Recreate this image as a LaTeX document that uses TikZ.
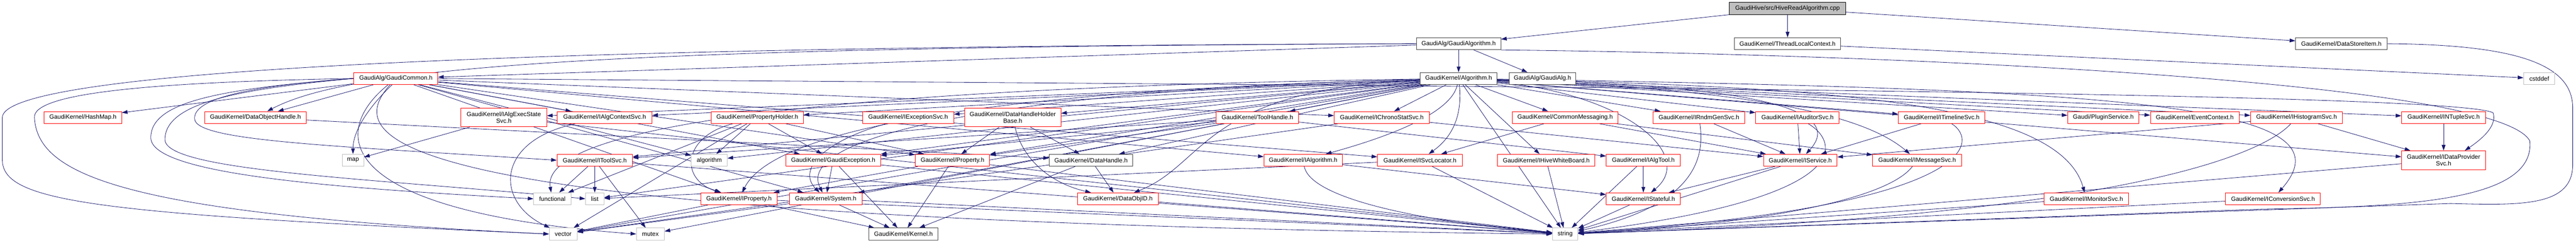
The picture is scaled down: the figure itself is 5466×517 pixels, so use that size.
\documentclass[tikz,border=0pt]{standalone}
\usepackage{fontspec}
\setmainfont{Liberation Sans}
\usetikzlibrary{arrows.meta}
\pgfdeclarelayer{bg}
\pgfsetlayers{bg,main}
\definecolor{edgecol}{HTML}{191970}
\definecolor{nodered}{HTML}{FF0000}
\definecolor{nodegray}{HTML}{BFBFBF}
\definecolor{nodeblk}{HTML}{404040}
\begin{document}
\begin{tikzpicture}[x=1pt,y=-1pt,
  hbox/.style={draw, rectangle, line width=1.1pt, fill=white, minimum height=25.5pt, inner sep=2pt, font=\fontsize{13}{14}\selectfont, text=black},
  redbox/.style={hbox, draw=nodered},
  blkbox/.style={hbox, draw=nodeblk},
  sysbox/.style={hbox, draw=nodegray},
  rootbox/.style={hbox, draw=black, fill=nodegray},
  tallbox/.style={minimum height=40pt, align=center},
  e/.style={draw=edgecol, line width=0.9pt, -{Triangle[length=12pt,width=8pt]}}
]
\useasboundingbox (0,0) rectangle (5466,517);
% row 0-2
\node[rootbox, minimum width=247pt] (root) at (3793,18) {GaudiHive/src/HiveReadAlgorithm.cpp};
\node[blkbox, minimum width=179pt] (galgm) at (3095,93) {GaudiAlg/GaudiAlgorithm.h};
\node[blkbox, minimum width=225pt] (tlc) at (3793,93) {GaudiKernel/ThreadLocalContext.h};
\node[blkbox, minimum width=194pt] (dsi) at (4968,93) {GaudiKernel/DataStoreItem.h};
\node[redbox, minimum width=178pt] (gcom) at (840,167) {GaudiAlg/GaudiCommon.h};
\node[blkbox, minimum width=163pt] (algh) at (3095,167) {GaudiKernel/Algorithm.h};
\node[blkbox, minimum width=142pt] (galg) at (3273,167) {GaudiAlg/GaudiAlg.h};
\node[sysbox, minimum width=66pt] (cstddef) at (5388,167) {cstddef};
% row 3
\node[redbox, minimum width=164pt] (hashmap) at (176,250) {GaudiKernel/HashMap.h};
\node[redbox, minimum width=215pt] (doh) at (542,250) {GaudiKernel/DataObjectHandle.h};
\node[redbox, tallbox, minimum width=182pt] (iaes) at (1069,250) {GaudiKernel/IAlgExecState\\Svc.h};
\node[redbox, minimum width=201pt] (iacs) at (1283,250) {GaudiKernel/IAlgContextSvc.h};
\node[redbox, minimum width=195pt] (ph) at (1607,250) {GaudiKernel/PropertyHolder.h};
\node[redbox, minimum width=193pt] (iexc) at (1927,250) {GaudiKernel/IExceptionSvc.h};
\node[redbox, tallbox, minimum width=204pt] (dhhb) at (2149,250) {GaudiKernel/DataHandleHolder\\Base.h};
\node[redbox, minimum width=174pt] (th) at (2668,250) {GaudiKernel/ToolHandle.h};
\node[redbox, minimum width=202pt] (icss) at (2932,250) {GaudiKernel/IChronoStatSvc.h};
\node[redbox, minimum width=224pt] (cm) at (3321,250) {GaudiKernel/CommonMessaging.h};
\node[redbox, minimum width=195pt] (irnd) at (3605,250) {GaudiKernel/IRndmGenSvc.h};
\node[redbox, minimum width=177pt] (iaud) at (3814,250) {GaudiKernel/IAuditorSvc.h};
\node[redbox, minimum width=184pt] (itl) at (4120,250) {GaudiKernel/ITimelineSvc.h};
\node[redbox, minimum width=151pt] (plug) at (4463,250) {Gaudi/PluginService.h};
\node[redbox, minimum width=188pt] (ec) at (4657,250) {GaudiKernel/EventContext.h};
\node[redbox, minimum width=195pt] (ihs) at (4873,250) {GaudiKernel/IHistogramSvc.h};
\node[redbox, minimum width=178pt] (ints) at (5185,250) {GaudiKernel/INTupleSvc.h};
% row 4
\node[sysbox, minimum width=46pt] (map) at (749,341) {map};
\node[redbox, minimum width=160pt] (its) at (1262,341) {GaudiKernel/IToolSvc.h};
\node[sysbox, minimum width=76pt] (algo) at (1505,341) {algorithm};
\node[redbox, minimum width=201pt] (gexc) at (1768,341) {GaudiKernel/GaudiException.h};
\node[redbox, minimum width=158pt] (prop) at (2021,341) {GaudiKernel/Property.h};
\node[blkbox, minimum width=177pt] (dh) at (2315,341) {GaudiKernel/DataHandle.h};
\node[redbox, minimum width=166pt] (ialg) at (2765,341) {GaudiKernel/IAlgorithm.h};
\node[redbox, minimum width=180pt] (isl) at (3013,341) {GaudiKernel/ISvcLocator.h};
\node[redbox, minimum width=207pt] (ihwb) at (3281,341) {GaudiKernel/IHiveWhiteBoard.h};
\node[redbox, minimum width=157pt] (iat) at (3487,341) {GaudiKernel/IAlgTool.h};
\node[redbox, minimum width=156pt] (isvc) at (3820,341) {GaudiKernel/IService.h};
\node[redbox, minimum width=189pt] (ims) at (4068,341) {GaudiKernel/IMessageSvc.h};
\node[redbox, tallbox, minimum width=178pt] (idps) at (5185,341) {GaudiKernel/IDataProvider\\Svc.h};
% row 5
\node[sysbox, minimum width=79pt] (func) at (1172,423) {functional};
\node[sysbox, minimum width=39pt] (list) at (1262,423) {list};
\node[redbox, minimum width=162pt] (iprop) at (1568,423) {GaudiKernel/IProperty.h};
\node[redbox, minimum width=154pt] (sys) at (1752,423) {GaudiKernel/System.h};
\node[redbox, minimum width=171pt] (doid) at (2372,423) {GaudiKernel/DataObjID.h};
\node[redbox, minimum width=157pt] (istf) at (3487,423) {GaudiKernel/IStateful.h};
\node[redbox, minimum width=179pt] (imon) at (4427,423) {GaudiKernel/IMonitorSvc.h};
\node[redbox, minimum width=201pt] (icnv) at (4823,423) {GaudiKernel/IConversionSvc.h};
% row 6
\node[sysbox, minimum width=59pt] (vector) at (1195,498) {vector};
\node[sysbox, minimum width=59pt] (mutex) at (1380,498) {mutex};
\node[blkbox, minimum width=146pt] (kernel) at (1917,498) {GaudiKernel/Kernel.h};
\node[sysbox, minimum width=54pt] (string) at (3321,498) {string};

\begin{pgfonlayer}{bg}
\foreach \s/\t in {root/galgm, root/tlc, root/dsi,
  galgm/algh, galgm/galg, galgm/gcom, tlc/cstddef,
  gcom/hashmap, gcom/doh, gcom/iacs, gcom/algo, gcom/gexc, gcom/prop, gcom/iprop, gcom/sys, gcom/icss, gcom/ialg, gcom/isl,
  algh/iaes, algh/iacs, algh/its, algh/ph, algh/iexc, algh/dhhb, algh/th, algh/icss, algh/cm, algh/irnd, algh/iaud, algh/itl, algh/plug, algh/ec, algh/ihs, algh/ints, algh/idps, algh/ihwb, algh/prop, algh/gexc, algh/dh, algh/string, algh/vector, algh/list, algh/mutex, algh/algo,
  iaes/map, iaes/string,
  its/func, its/list, its/mutex, its/string,
  ph/algo, ph/prop, ph/gexc, ph/func, ph/vector,
  gexc/sys, gexc/kernel, gexc/string,
  prop/kernel, prop/iprop, prop/string,
  iprop/vector, iprop/string, iprop/kernel,
  sys/kernel, sys/string, sys/vector,
  dhhb/prop, dhhb/dh, dh/doid, dh/kernel, doh/dh, doid/string,
  th/its, th/iat, th/gexc, th/prop, th/sys,
  ialg/istf, isl/list, isl/string, icss/isvc, icss/vector,
  cm/isvc, cm/ims, cm/isl, ihwb/string, iat/istf, iat/string, istf/string,
  irnd/isvc, iaud/isvc, isvc/istf, isvc/string, itl/isvc,
  ihs/idps, ihs/isvc, ints/idps, idps/string, icnv/string, imon/string}
  \draw[e] (\s) -- (\t);
% curved / looping edges
\draw[e] (galgm.west) .. controls (1300,100) and (750,140) .. (doh);
\draw[e] (galgm.west) .. controls (700,100) and (5,170) .. (5,250) -- (5,340) .. controls (5,430) and (200,455) .. (vector.west);
\draw[e] (galgm.south east) .. controls (4000,115) and (5300,170) .. (5368,300) .. controls (5380,430) and (5100,440) .. (4800,445) -- (string);
\draw[e] (dsi.east) .. controls (5350,95) and (5459,140) .. (5459,230) -- (5459,350) .. controls (5459,440) and (5350,437) .. (5200,433) -- (string);
\draw[e] (gcom.west) .. controls (300,175) and (70,200) .. (73,250) .. controls (80,370) and (250,455) .. (vector.west);
\draw[e] (gcom.west) .. controls (500,185) and (410,215) .. (413,253) .. controls (415,300) and (700,310) .. (its.west);
\draw[e] (gcom.west) .. controls (450,190) and (320,220) .. (320,293) .. controls (320,370) and (700,400) .. (func.west);
\draw[e] (gcom.west) .. controls (500,190) and (350,220) .. (350,297) .. controls (350,365) and (800,380) .. (list.west);
\draw[e] ([xshift=-8pt]gcom.south) .. controls (780,230) and (749,280) .. (map.north);
\draw[e] (gcom) .. controls (700,280) and (700,450) .. (mutex.west);
\draw[e] (gcom) .. controls (720,300) and (800,470) .. (string.west);
\draw[e] (gcom.east) .. controls (2500,180) and (5200,190) .. (5290,240) .. controls (5300,270) and (5260,300) .. ([xshift=45pt]idps.north);
\draw[e] (algh) .. controls (3080,240) and (2950,290) .. (ialg);
\draw[e] (algh) .. controls (3105,260) and (3070,300) .. (isl);
\draw[e] (algh) .. controls (3900,185) and (4370,220) .. (imon);
\draw[e] (algh) .. controls (4500,190) and (5000,220) .. (icnv);
\draw[e] (algh) .. controls (3700,190) and (3950,240) .. (ims);
\draw[e] (algh) .. controls (3650,180) and (3930,220) .. (isvc);
\draw[e] (algh) .. controls (2200,190) and (1650,260) .. (iprop);
\draw[e] (algh) .. controls (2200,190) and (1680,280) .. (sys);
\draw[e] (algh) .. controls (2550,190) and (2560,350) .. (doid);
\draw[e] (algh) .. controls (3450,200) and (3600,330) .. (istf);
\draw[e] (algh) .. controls (1500,190) and (1150,300) .. (func);
\draw[e] (iacs) .. controls (1050,300) and (1050,430) .. (vector);
\draw[e] (ph) .. controls (1450,290) and (1440,380) .. (iprop);
\draw[e] (iexc) .. controls (1750,300) and (1690,360) .. (sys);
\draw[e] (dhhb) .. controls (2170,340) and (2230,390) .. (doid);
\draw[e] (ialg) .. controls (2780,420) and (3000,470) .. (string);
\draw[e] (irnd) .. controls (3620,350) and (3580,440) .. (string);
\draw[e] (iaud) .. controls (3900,300) and (3950,420) .. (string);
\draw[e] (itl) .. controls (4200,300) and (4200,440) .. (string);
\draw[e] (ims) .. controls (4000,430) and (3700,480) .. (string);
\draw[e] (ihs) .. controls (4800,330) and (4500,460) .. (string);
\end{pgfonlayer}
\end{tikzpicture}
\end{document}
